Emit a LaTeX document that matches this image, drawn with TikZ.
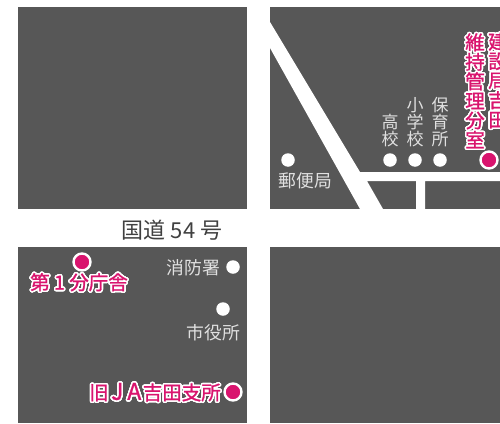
\documentclass[tikz,border=0pt]{standalone}
\usepackage{fontspec}
\usepackage{contour}
\setmainfont{Noto Sans CJK JP}
\newfontfamily\pinkfont[FakeBold=1.2]{Noto Sans CJK JP}
\contourlength{1.5pt}
\contournumber{24}
\definecolor{panel}{HTML}{575757}
\definecolor{pinkmark}{HTML}{D9146E}
\definecolor{inktext}{HTML}{404040}
\definecolor{graytext}{HTML}{E0E0E0}
\newcommand{\stackrow}[2]{\makebox[0pt]{\raisebox{-#2pt}{\smash{#1}}}}
\newcommand{\pinkout}[1]{\contour{white}{\textcolor{pinkmark}{\pinkfont #1}}}
\newcommand{\jaletter}[1]{\makebox[17pt]{\contour{white}{\textcolor{pinkmark}{\pinkfont\fontsize{23}{23}\selectfont #1}}}}
\tikzset{
 x=1pt,y=-1pt,
 panelbox/.style={fill=panel,draw=none},
 roadway/.style={fill=white,draw=none},
 whitedot/.style={circle,fill=white,draw=none,minimum size=13.5pt,inner sep=0pt},
 pinkdot/.style={circle,fill=pinkmark,draw=white,line width=2.4pt,minimum size=17pt,inner sep=0pt},
 maplabel/.style={text=graytext,font=\fontsize{17.8}{17.8}\selectfont,inner sep=0pt},
 vlabel/.style={text=graytext,font=\fontsize{17}{17}\selectfont,inner sep=0pt},
 pinklabel/.style={font=\fontsize{19.5}{19.5}\selectfont,inner sep=0pt},
 pinkv/.style={font=\fontsize{19.5}{19.5}\selectfont,inner sep=0pt},
}
\begin{document}
\begin{tikzpicture}
\useasboundingbox (0,0) rectangle (500,423);
\fill[white] (0,0) rectangle (500,423);
\path[panelbox] (18,7) rectangle (247,209);
\path[panelbox] (270,7) rectangle (500,209);
\path[panelbox] (18,247) rectangle (247,423);
\path[panelbox] (270,247) rectangle (500,423);
% roads
\path[roadway] (270,22) -- (360,172) -- (500,172) -- (500,181) -- (425,181) -- (425,209) -- (416,209) -- (416,181) -- (367,181) -- (383,209) -- (360,209) -- (270,48) -- cycle;
% top right
\node[whitedot] (postdot) at (288,160) {};
\node[maplabel] (post) at (305.5,181) {郵便局};
\node[whitedot] (highdot) at (390,160) {};
\node[whitedot] (elemdot) at (415,160) {};
\node[whitedot] (nurserydot) at (440,160) {};
\node[vlabel] (high) at (390,137) {\stackrow{高}{-9}\stackrow{校}{8.5}};
\node[vlabel] (elem) at (415,128.5) {\stackrow{小}{-17.5}\stackrow{学}{0}\stackrow{校}{17}};
\node[vlabel] (nursery) at (440,128.5) {\stackrow{保}{-17.5}\stackrow{育}{0}\stackrow{所}{17}};
\node[pinkdot] (ijidot) at (489,160) {};
\node[pinkv] (iji) at (475,98.5) {\stackrow{\pinkout{維}}{-49}\stackrow{\pinkout{持}}{-29.5}\stackrow{\pinkout{管}}{-10}\stackrow{\pinkout{理}}{9.5}\stackrow{\pinkout{分}}{29}\stackrow{\pinkout{室}}{48.5}};
\node[pinkv] (ken) at (498,88) {\stackrow{\pinkout{建}}{-39}\stackrow{\pinkout{設}}{-19.5}\stackrow{\pinkout{局}}{0}\stackrow{\pinkout{吉}}{19.5}\stackrow{\pinkout{田}}{39}};
% caption
\node[text=inktext,font=\fontsize{22}{22}\selectfont,inner sep=0pt] (route) at (172,230) {国道 54 号};
% bottom left
\node[pinkdot] (firstdot) at (82,262) {};
\node[pinklabel] (first) at (79,283) {\pinkout{第 1 分庁舎}};
\node[maplabel,anchor=east] (fire) at (220.5,268) {消防署};
\node[whitedot] (firedot) at (233,267) {};
\node[whitedot] (citydot) at (223,309) {};
\node[maplabel,anchor=east] (city) at (240,333) {市役所};
\node[pinkdot] (jadot) at (233,392) {};
\node[pinklabel,anchor=east] (ja) at (221,393) {\pinkout{旧}\jaletter{J}\jaletter{A}\pinkout{吉田支所}};
\end{tikzpicture}
\end{document}
